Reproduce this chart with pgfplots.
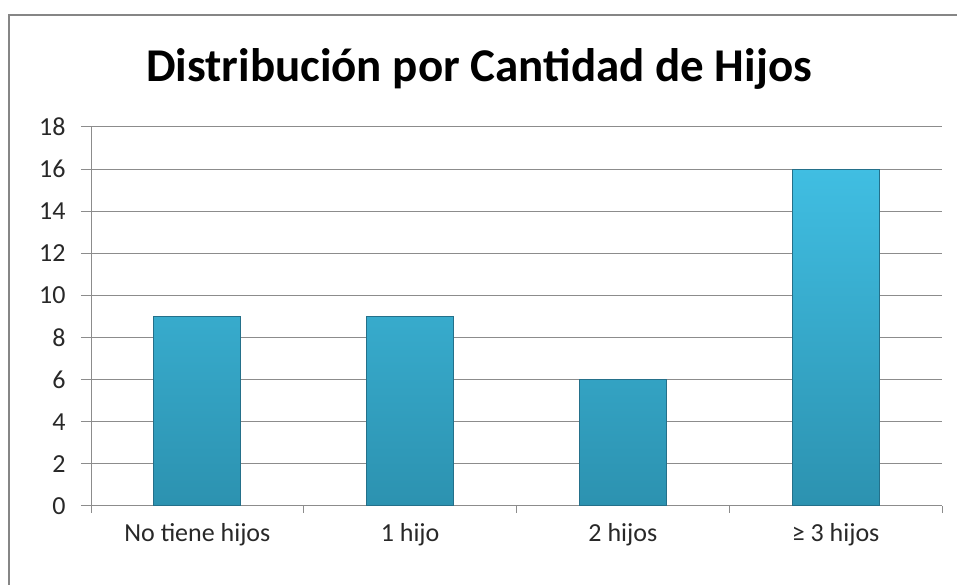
\documentclass[border=0pt]{standalone}
\usepackage{fontspec}
\setmainfont{Carlito}
\usepackage{pgfplots}
\pgfplotsset{compat=1.18}
\definecolor{gridgray}{RGB}{140,140,140}
\definecolor{framegray}{RGB}{134,134,134}
\definecolor{labelgray}{RGB}{40,40,40}
\definecolor{bartop}{RGB}{64,190,226}
\definecolor{barmid}{RGB}{56,174,208}
\definecolor{barbot}{RGB}{44,146,176}
\definecolor{baredge}{RGB}{36,112,138}

\begin{document}
\begin{tikzpicture}
\useasboundingbox (0,0) rectangle (957pt,585pt);
\draw[framegray, line width=2pt] (9pt,-5pt) -- (9pt,570pt) -- (962pt,570pt);
\node[font=\fontsize{47}{52}\selectfont\bfseries, anchor=base] at (479pt,503pt)
  {Distribución por Cantidad de Hijos};
\begin{axis}[
  at={(91pt,79pt)}, anchor=south west,
  scale only axis, width=851pt, height=379pt,
  xmin=-0.5, xmax=3.5, ymin=0, ymax=18,
  axis x line*=bottom, axis y line*=left,
  axis line style={gridgray, line width=1pt, -},
  ytick={0,2,...,18},
  xtick={0,1,2,3},
  xticklabels={No tiene hijos, 1 hijo, 2 hijos, ≥ 3 hijos},
  minor xtick={-0.5,0.5,1.5,2.5,3.5},
  tick align=outside,
  major tick length=10pt, minor tick length=7pt,
  xtick style={draw=none},
  minor x tick style={draw=gridgray, line width=1pt},
  ytick style={draw=gridgray, line width=1pt},
  ymajorgrids, grid style={gridgray, line width=1pt},
  tick label style={font=\fontsize{26}{30}\selectfont, text=labelgray},
  /pgf/number format/assume math mode=true,
  xticklabel style={yshift=-4pt},
  yticklabel style={xshift=-12pt},
  clip=false,
]
  \addplot[ybar, bar width=0.41, draw=baredge, line width=1pt,
    top color=bartop, middle color=barmid, bottom color=barbot]
    coordinates {(0,9) (1,9) (2,6) (3,16)};
\end{axis}
\end{tikzpicture}
\end{document}
